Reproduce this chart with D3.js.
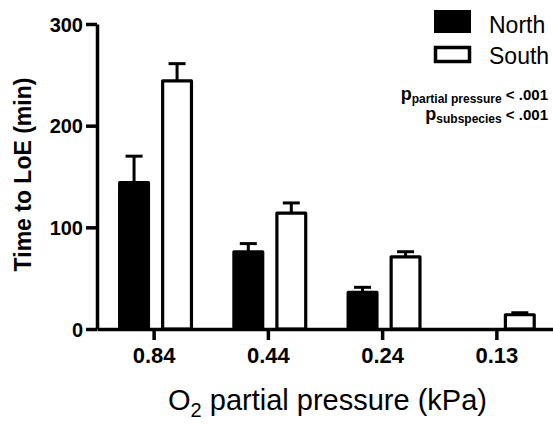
<!DOCTYPE html>
<html>
<head>
<meta charset="utf-8">
<script src="https://cdn.jsdelivr.net/npm/d3@7"></script>
<style>
  body { margin: 0; background: #fff; }
  text { font-family: "Liberation Sans", Arial, sans-serif; }
</style>
</head>
<body>
<svg></svg>
<script>
// O2 partial pressure vs time to loss of equilibrium

var width = 553;
var height = 424;

var pressures = ["0.84", "0.44", "0.24", "0.13"];
var groups = ["North", "South"];
var northMean = [144, 76, 36, 0];
var northErr = [170, 84, 41, 0];
var southMean = [244, 114, 71, 14];
var southErr = [261, 124, 76, 16];
var yTicks = [0, 100, 200, 300];

var padLeft = 97, padRight = 554, padBottom = 329, padTop = 24;

var rows = [];
pressures.forEach(function (p, i) {
	rows.push({ p: p, g: "North", v: northMean[i], e: northErr[i] });
	rows.push({ p: p, g: "South", v: southMean[i], e: southErr[i] });
});

var Xscale = d3.scaleBand()
				.domain(pressures)
				.range([padLeft, padRight])
				.padding(0);

var bw = Xscale.bandwidth();
var subScale = d3.scaleBand()
				.domain(groups)
				.range([bw * 0.185, bw * 0.84])
				.paddingInner(0.26);

var Yscale = d3.scaleLinear()
				.domain([0, 300])
				.range([padBottom, padTop]);

var svg = d3.select("svg")
	.attr("width", width)
	.attr("height", height);

svg.append("rect")
	.attr("width", width)
	.attr("height", height)
	.attr("fill", "#fff");

var cx = d => Xscale(d.p) + subScale(d.g) + subScale.bandwidth() / 2;

// error bars (upper only)
var err = svg.selectAll(".err")
	.data(rows.filter(d => d.v > 0))
	.enter()
	.append("g")
	.attr("class", "err");

err.append("line")
	.attr("x1", cx)
	.attr("x2", cx)
	.attr("y1", d => Yscale(d.v))
	.attr("y2", d => Yscale(d.e))
	.attr("stroke", "#000")
	.attr("stroke-width", 3);

err.append("line")
	.attr("x1", d => cx(d) - 8.5)
	.attr("x2", d => cx(d) + 8.5)
	.attr("y1", d => Yscale(d.e))
	.attr("y2", d => Yscale(d.e))
	.attr("stroke", "#000")
	.attr("stroke-width", 3);

// bars
svg.selectAll(".bar")
	.data(rows.filter(d => d.v > 0))
	.enter()
	.append("rect")
	.attr("class", "bar")
	.attr("x", d => Xscale(d.p) + subScale(d.g) + 1.5)
	.attr("width", subScale.bandwidth() - 3)
	.attr("y", d => Yscale(d.v))
	.attr("height", d => Yscale(0) - Yscale(d.v))
	.attr("fill", d => d.g === "North" ? "#000" : "#fff")
	.attr("stroke", "#000")
	.attr("stroke-width", 3.2)
	.attr("stroke-linejoin", "round");

// axes
var yAxis = d3.axisLeft(Yscale)
				.tickValues(yTicks)
				.tickSize(11)
				.tickSizeOuter(0)
				.tickPadding(3);

var xAxis = d3.axisBottom(Xscale)
				.tickSize(11)
				.tickSizeOuter(0)
				.tickPadding(7);

var gy = svg.append("g")
	.attr("transform", "translate(" + padLeft + ",0)")
	.call(yAxis);

var gx = svg.append("g")
	.attr("transform", "translate(0," + padBottom + ")")
	.call(xAxis);

[gy, gx].forEach(function (g) {
	g.select(".domain").attr("stroke-width", 3.5);
	g.selectAll(".tick line").attr("stroke-width", 3.5);
	g.selectAll(".tick text")
		.attr("font-family", "'Liberation Sans', Arial, sans-serif")
		.attr("font-weight", "bold")
		.attr("fill", "#000");
});
gy.selectAll(".tick text").attr("font-size", 20).attr("dy", "0.36em");
gx.selectAll(".tick text").attr("font-size", 22);

// axis titles
svg.append("text")
	.attr("transform", "rotate(-90)")
	.attr("x", -(padTop + padBottom) / 2 + 2)
	.attr("y", 31)
	.attr("text-anchor", "middle")
	.attr("font-size", 23)
	.attr("font-weight", "bold")
	.text("Time to LoE (min)");

var xt = svg.append("text")
	.attr("x", (padLeft + padRight) / 2 + 2)
	.attr("y", 410)
	.attr("text-anchor", "middle")
	.attr("font-size", 29);
xt.append("tspan").text("O");
xt.append("tspan").attr("font-size", 20).attr("dy", 7).text("2");
xt.append("tspan").attr("dy", -7).text(" partial pressure (kPa)");

// legend
var legend = svg.selectAll(".legend")
	.data(groups)
	.enter()
	.append("g")
	.attr("class", "legend")
	.attr("transform", (d, i) => "translate(434," + (10 + i * 36) + ")");

legend.append("rect")
	.attr("x", d => d === "North" ? 0 : 1.5)
	.attr("y", d => d === "North" ? 0 : 1.5)
	.attr("width", d => d === "North" ? 37 : 34)
	.attr("height", d => d === "North" ? 23 : 14)
	.attr("fill", d => d === "North" ? "#000" : "#fff")
	.attr("stroke", d => d === "North" ? "none" : "#000")
	.attr("stroke-width", 3.5);

legend.append("text")
	.attr("x", 55)
	.attr("y", d => d === "North" ? 23 : 18)
	.attr("font-size", 23)
	.text(d => d);

// p values
var pLabels = ["partial pressure", "subspecies"];
pLabels.forEach(function (s, i) {
	var t = svg.append("text")
		.attr("x", 548)
		.attr("y", 100 + i * 19.5)
		.attr("text-anchor", "end")
		.attr("font-weight", "bold");
	t.append("tspan").attr("font-size", 18).text("p");
	t.append("tspan").attr("font-size", 12).attr("dy", 3).text(s);
	t.append("tspan").attr("font-size", 15).attr("dy", -3).text(" < .001");
});
</script>
</body>
</html>
